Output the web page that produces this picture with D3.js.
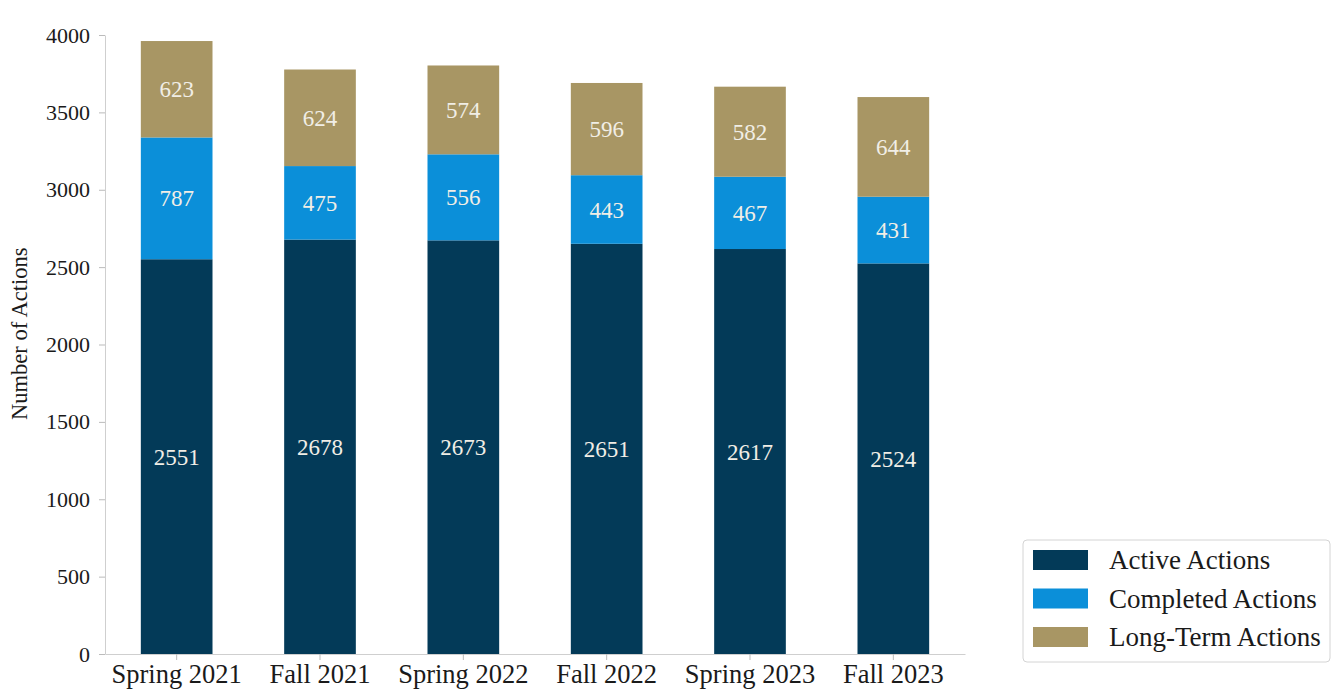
<!DOCTYPE html>
<html>
<head>
<meta charset="utf-8">
<script src="https://cdn.jsdelivr.net/npm/d3@7"></script>
<style>
    body { margin: 0; background: #fff; }
    svg text { font-family: "Liberation Serif", "DejaVu Serif", serif !important; }
</style>
</head>
<body>
<div id="chart"></div>
<script>
const categories = ["Spring 2021", "Fall 2021", "Spring 2022", "Fall 2022", "Spring 2023", "Fall 2023"]
const seriesNames = ["Active Actions", "Completed Actions", "Long-Term Actions"]
const active = [2551, 2678, 2673, 2651, 2617, 2524]
const completed = [787, 475, 556, 443, 467, 431]
const longTerm = [623, 624, 574, 596, 582, 644]
const yTicks = [0, 500, 1000, 1500, 2000, 2500, 3000, 3500, 4000]

const colors = ["#033a58", "#0b8fd9", "#a89664"]

const W = 1333, H = 691
const margin = {left: 105, right: 368, top: 35, bottom: 37}

const svg = d3.select("#chart").append("svg")
    .attr("width", W)
    .attr("height", H)

// build rows for the stack
const rows = categories.map((c, i) => ({
    cat: c,
    "Active Actions": active[i],
    "Completed Actions": completed[i],
    "Long-Term Actions": longTerm[i]
}))
const stacked = d3.stack().keys(seriesNames)(rows)

const x = d3.scaleBand()
    .domain(categories)
    .range([margin.left, W - margin.right])
    .paddingInner(0.5)
    .paddingOuter(0.25)

const y = d3.scaleLinear()
    .domain([0, 4000])
    .range([H - margin.bottom, margin.top])

/* AXES */
const xAxis = svg.append("g")
    .attr("transform", `translate(0, ${H - margin.bottom})`)
    .call(d3.axisBottom(x).tickSize(6).tickPadding(4).tickSizeOuter(0))
xAxis.select(".domain").attr("stroke", "#cfcfcf")
xAxis.selectAll(".tick line").attr("stroke", "#bbb")
xAxis.selectAll(".tick text")
    .attr("font-size", 26.5)
    .attr("fill", "#1a1a1a")

const yAxis = svg.append("g")
    .attr("transform", `translate(${margin.left}, 0)`)
    .call(d3.axisLeft(y).tickValues(yTicks).tickFormat(d3.format("d"))
        .tickSize(6).tickPadding(9).tickSizeOuter(0))
yAxis.select(".domain").attr("stroke", "#cfcfcf")
yAxis.selectAll(".tick line").attr("stroke", "#bbb")
yAxis.selectAll(".tick text")
    .attr("font-size", 22)
    .attr("fill", "#1a1a1a")

svg.append("text")
    .attr("transform", `translate(27, ${y(2070)}) rotate(-90)`)
    .attr("text-anchor", "middle")
    .attr("font-size", 22.5)
    .attr("fill", "#1a1a1a")
    .text("Number of Actions")

/* BARS */
const groups = svg.append("g").selectAll("g")
    .data(stacked)
    .enter()
    .append("g")
    .attr("fill", (d, i) => colors[i])

groups.selectAll("rect")
    .data(d => d)
    .enter()
    .append("rect")
    .attr("x", d => x(d.data.cat))
    .attr("width", x.bandwidth())
    .attr("y", d => y(d[1]))
    .attr("height", d => y(d[0]) - y(d[1]))

// value labels in segment centers
groups.selectAll("text")
    .data(d => d)
    .enter()
    .append("text")
    .attr("x", d => x(d.data.cat) + x.bandwidth() / 2)
    .attr("y", d => y((d[0] + d[1]) / 2))
    .attr("dy", "0.35em")
    .attr("text-anchor", "middle")
    .attr("font-size", 23)
    .attr("fill", "#f1eee6")
    .text(d => d[1] - d[0])

/* LEGEND */
const legend = svg.append("g")
    .attr("transform", "translate(1023, 540)")
legend.append("rect")
    .attr("width", 307)
    .attr("height", 122)
    .attr("rx", 4)
    .attr("fill", "#fff")
    .attr("stroke", "#d4d4d4")

const items = legend.selectAll(".item")
    .data(seriesNames)
    .enter()
    .append("g")
    .attr("transform", (d, i) => `translate(10, ${20 + i * 38.5})`)
items.append("rect")
    .attr("y", -10)
    .attr("width", 55)
    .attr("height", 20)
    .attr("fill", (d, i) => colors[i])
items.append("text")
    .attr("x", 76)
    .attr("dy", "0.35em")
    .attr("font-size", 27)
    .attr("fill", "#1a1a1a")
    .text(d => d)
</script>
</body>
</html>
